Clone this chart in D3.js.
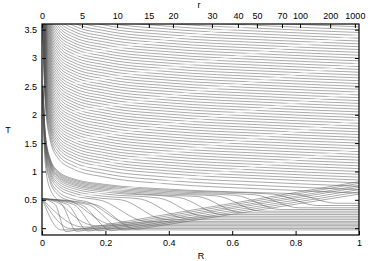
<!DOCTYPE html>
<html>
<head>
<meta charset="utf-8">
<script src="https://cdn.jsdelivr.net/npm/d3@7"></script>
<style>
  body { margin: 0; background: #fff; }
  svg { display: block; }
</style>
</head>
<body>
<div id="chart"></div>
<script>
// bottom axis (R) and left axis (T) ticks
const rTicksBottom = [0, 0.2, 0.4, 0.6, 0.8, 1];
const tTicks = [0, 0.5, 1, 1.5, 2, 2.5, 3, 3.5];

// top axis: r labels and where they sit on the R scale
const rLabels = [0, 5, 10, 15, 20, 30, 40, 50, 70, 100, 200, 1000];
const rLabelPos = [0, 0.126, 0.237, 0.337, 0.413, 0.536, 0.618, 0.678, 0.757, 0.814, 0.909, 0.987];

// upper family: level of each curve at R = 1
const upperLevels = [
  0.62, 0.68, 0.74, 0.80, 0.85, 0.90, 0.95, 1.00, 1.05, 1.10,
  1.15, 1.20, 1.25, 1.30, 1.35, 1.40, 1.45, 1.50, 1.55, 1.60,
  1.65, 1.70, 1.75, 1.80, 1.85, 1.90, 1.95, 2.00, 2.05, 2.10,
  2.15, 2.20, 2.25, 2.30, 2.35, 2.40, 2.45, 2.50, 2.55, 2.60,
  2.65, 2.70, 2.75, 2.80, 2.85, 2.90, 2.95, 3.00, 3.05, 3.10,
  3.15, 3.20, 3.25, 3.30, 3.35, 3.40, 3.45, 3.50, 3.55
];
// how far above its R = 1 level an upper curve sits along R
const upperShapeR = [0.003, 0.01, 0.025, 0.05, 0.1, 0.2, 0.4, 0.7, 1];
const upperShapeT = [2.8, 1.6, 0.95, 0.62, 0.42, 0.28, 0.16, 0.07, 0];

// light streaks where the rising states cut through the upper family (T at R = 1)
const streakEndT = [1.4, 1.9, 2.4, 2.9, 3.4, 3.9];
const streakSlope = 0.95;

// lower family, curves that leave their shelf and flatten out
const flatLevel = [-0.03, -0.005, 0.02, 0.045, 0.07, 0.095, 0.12, 0.15, 0.18, 0.21, 0.24, 0.27, 0.30, 0.33, 0.36, 0.40, 0.44];
const flatStart = [0, 0.01, 0.03, 0.06, 0.10, 0.14, 0.19, 0.25, 0.31, 0.37, 0.43, 0.49, 0.55, 0.61, 0.67, 0.73, 0.79];
const flatLand  = [0.06, 0.09, 0.13, 0.17, 0.22, 0.27, 0.33, 0.39, 0.45, 0.51, 0.57, 0.63, 0.69, 0.75, 0.81, 0.87, 0.93];
const flatTop   = [0.5, 0.5, 0.5, 0.44, 0.455, 0.47, 0.485, 0.5, 0.515, 0.53, 0.545, 0.56, 0.57, 0.58, 0.59, 0.6, 0.61];

// lower family, curves that dip and then climb to the right edge
const riseDipR = [0.075, 0.11, 0.145, 0.18, 0.22, 0.26, 0.30];
const riseDipT = [-0.06, -0.055, -0.05, -0.045, -0.04, -0.03, -0.02];
const riseEndT = [0.82, 0.79, 0.75, 0.72, 0.68, 0.64, 0.60];

const width = 373, height = 261;
const margin = { top: 24, right: 14, bottom: 26, left: 42 };

const svg = d3.select('#chart')
  .append('svg')
  .attr('width', width)
  .attr('height', height)
  .attr('font-family', '"Liberation Sans", Arial, sans-serif');

const x = d3.scaleLinear().domain([0, 1]).range([margin.left, width - margin.right]);
const y = d3.scaleLinear().domain([-0.12, 3.6]).range([height - margin.bottom, margin.top]);

svg.append('defs').append('clipPath')
  .attr('id', 'plot-clip')
  .append('rect')
  .attr('x', x(0)).attr('y', y(3.6))
  .attr('width', x(1) - x(0)).attr('height', y(-0.12) - y(3.6));

// offset of the shared upper shape at any R (read profile, linear between knots)
const shapeAt = d3.scaleLinear().domain(upperShapeR).range(upperShapeT).clamp(true);

// build knot lists for every curve
const curves = [];

upperLevels.forEach(L => {
  curves.push(upperShapeR.map((r, i) => [r, L + upperShapeT[i]]));
});

flatLevel.forEach((lv, i) => {
  const s = flatStart[i];
  let pts;
  if (s > 0.05) {
    // left part follows the upper-family shape, a little flatter
    const base = shapeAt(s);
    pts = upperShapeR.filter(r => r < s - 0.03)
      .map(r => [r, flatTop[i] + 0.7 * (shapeAt(r) - base)]);
    pts.push([s, flatTop[i]]);
  } else {
    pts = [[0, 0.52]];
  }
  pts.push([flatLand[i], lv]);
  pts.push([1, lv]);
  curves.push(pts);
});

riseDipR.forEach((b, i) => {
  const slope = (riseEndT[i] - riseDipT[i]) / (1 - b);
  curves.push([
    [0, 0.52],
    [b * 0.55, 0.42],
    [b, riseDipT[i]],
    [b + 0.04, riseDipT[i] + 0.04 * slope],
    [1, riseEndT[i]]
  ]);
});

const line = d3.line()
  .x(d => x(d[0]))
  .y(d => y(d[1]))
  .curve(d3.curveMonotoneX);

const plot = svg.append('g').attr('clip-path', 'url(#plot-clip)');

plot.selectAll('path.curve')
  .data(curves)
  .join('path')
  .attr('class', 'curve')
  .attr('d', line)
  .attr('fill', 'none')
  .attr('stroke', '#555')
  .attr('stroke-width', 0.5);

// avoided-crossing streaks show up as lighter diagonal bands
plot.selectAll('line.streak')
  .data(streakEndT)
  .join('line')
  .attr('class', 'streak')
  .attr('x1', x(0.1))
  .attr('y1', d => y(d - streakSlope * 0.9))
  .attr('x2', x(1))
  .attr('y2', d => y(d))
  .attr('stroke', '#fff')
  .attr('stroke-width', 1.8)
  .attr('stroke-opacity', 0.6);

// axes, ticks pointing inward like the original
const fmt = d3.format('');

const styleAxis = g => {
  g.select('.domain').remove();
  g.selectAll('.tick line').attr('stroke', '#000');
  g.selectAll('.tick text').attr('font-size', 9).attr('fill', '#000');
};

svg.append('g')
  .attr('transform', `translate(0,${y(-0.12)})`)
  .call(d3.axisBottom(x).tickValues(rTicksBottom).tickFormat(fmt).tickSize(-4).tickPadding(5))
  .call(styleAxis);

svg.append('g')
  .attr('transform', `translate(0,${y(3.6)})`)
  .call(d3.axisTop(x).tickValues(rLabelPos).tickFormat((d, i) => rLabels[i]).tickSize(-4).tickPadding(5))
  .call(styleAxis);

svg.append('g')
  .attr('transform', `translate(${x(0)},0)`)
  .call(d3.axisLeft(y).tickValues(tTicks).tickFormat(fmt).tickSize(-4).tickPadding(5))
  .call(styleAxis);

svg.append('g')
  .attr('transform', `translate(${x(1)},0)`)
  .call(d3.axisRight(y).tickValues(tTicks).tickFormat('').tickSize(-4))
  .call(styleAxis);

// frame
svg.append('rect')
  .attr('x', x(0)).attr('y', y(3.6))
  .attr('width', x(1) - x(0)).attr('height', y(-0.12) - y(3.6))
  .attr('fill', 'none')
  .attr('stroke', '#000')
  .attr('stroke-width', 1.2);

// axis titles
svg.append('text')
  .attr('x', 201).attr('y', 259)
  .attr('text-anchor', 'middle')
  .attr('font-size', 9)
  .text('R');

svg.append('text')
  .attr('x', 199).attr('y', 8)
  .attr('text-anchor', 'middle')
  .attr('font-size', 9)
  .text('r');

svg.append('text')
  .attr('x', 8).attr('y', 133)
  .attr('text-anchor', 'middle')
  .attr('font-size', 9)
  .text('T');
</script>
</body>
</html>
